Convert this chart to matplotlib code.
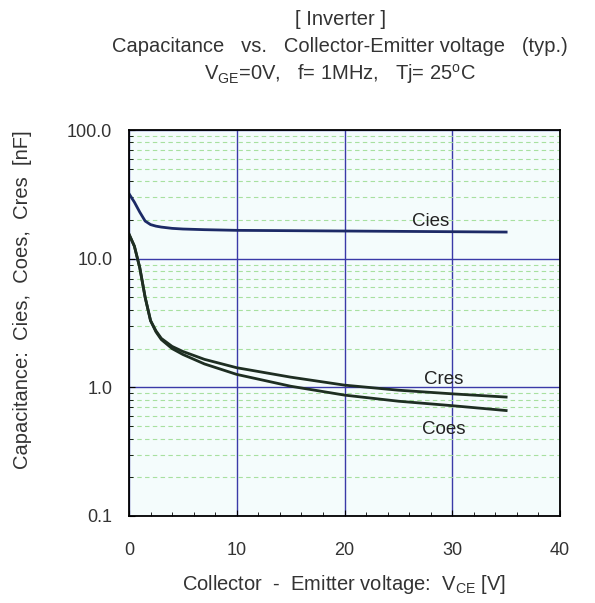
import matplotlib.pyplot as plt
import numpy as np
from matplotlib.ticker import FixedLocator, NullFormatter

plt.rcParams['font.family'] = 'Liberation Sans'
plt.rcParams['mathtext.fontset'] = 'custom'
plt.rcParams['mathtext.rm'] = 'Liberation Sans'
plt.rcParams['mathtext.it'] = 'Liberation Sans'

# capacitance curves, nF vs VCE
vce = [0, 0.5, 1.0, 1.5, 2.0, 2.5, 3.0, 4.0, 5.0, 7.0, 10, 15, 20, 25, 30, 35]
cies = [32, 27.5, 23, 19.6, 18.4, 17.9, 17.6, 17.2, 17.0, 16.8, 16.6, 16.5, 16.4, 16.3, 16.2, 16.1]
coes = [15.5, 12.5, 8.5, 5.0, 3.3, 2.7, 2.35, 2.0, 1.8, 1.52, 1.26, 1.02, 0.87, 0.78, 0.72, 0.66]
cres = [15.5, 12.5, 8.5, 5.0, 3.3, 2.75, 2.4, 2.08, 1.9, 1.65, 1.42, 1.2, 1.04, 0.95, 0.89, 0.84]

yticks = [0.1, 1, 10, 100]
ytick_labels = ['0.1', '1.0', '10.0', '100.0']
xticks = [0, 10, 20, 30, 40]

fig = plt.figure(figsize=(5.95, 6.03), dpi=100)
ax = fig.add_axes([0.2168, 0.1443, 0.7244, 0.6401])
ax.set_facecolor('#f4fcfc')

ax.set_yscale('log')
ax.set_xlim(0, 40)
ax.set_ylim(0.1, 100)

minor_y = [m * d for d in (0.1, 1, 10) for m in range(2, 10)]
ax.yaxis.set_minor_locator(FixedLocator(minor_y))
ax.yaxis.set_minor_formatter(NullFormatter())
ax.set_yticks(yticks)
ax.set_yticklabels(ytick_labels)
ax.set_xticks(xticks)
ax.xaxis.set_minor_locator(FixedLocator(np.arange(0, 41, 2)))

ax.grid(which='major', color='#3a3aa8', linewidth=1.0)
ax.grid(which='minor', axis='y', color='#a8e0a0', linestyle=(0, (4, 3)), linewidth=0.8)
ax.tick_params(which='both', direction='in', colors='black', labelcolor='#333333',
               labelsize=13, length=4)
ax.tick_params(which='minor', length=3)
ax.tick_params(axis='x', pad=19)
ax.tick_params(axis='y', pad=12)
for s in ax.spines.values():
    s.set_linewidth(1.3)

ax.plot(vce, cies, color='#1c2a66', linewidth=2)
ax.plot(vce, coes, color='#1e2e22', linewidth=2)
ax.plot(vce, cres, color='#1e2e22', linewidth=2)

ax.text(28, 19.3, 'Cies', fontsize=13.5, ha='center', va='center', color='#222222')
ax.text(29.2, 1.16, 'Cres', fontsize=13.5, ha='center', va='center', color='#222222')
ax.text(29.2, 0.47, 'Coes', fontsize=13.5, ha='center', va='center', color='#222222')

ax.set_xlabel('Collector  -  Emitter voltage:  V$_{\\rm CE}$ [V]', fontsize=14.5,
              color='#333333')
ax.xaxis.set_label_coords(0.5, -0.148)
ax.set_ylabel('Capacitance:  Cies,  Coes,  Cres  [nF]', fontsize=14.5,
              color='#333333')
ax.yaxis.set_label_coords(-0.226, 0.56)

fig.text(0.572, 0.968, '[ Inverter ]', ha='center', va='center', fontsize=14.5, color='#333333')
fig.text(0.572, 0.923, 'Capacitance   vs.   Collector-Emitter voltage   (typ.)',
         ha='center', va='center', fontsize=14.5, color='#333333')
fig.text(0.572, 0.877, 'V$_{\\rm GE}$=0V,   f= 1MHz,   Tj= 25$^{\\rm o}$C',
         ha='center', va='center', fontsize=14.5, color='#333333')

fig.savefig('out.png', dpi=100)
